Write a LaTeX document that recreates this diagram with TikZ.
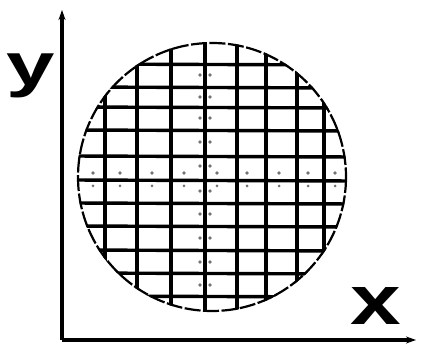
\documentclass[tikz,border=0pt]{standalone}
\usepackage{fontspec}
\setmainfont{Liberation Sans}
\usetikzlibrary{arrows.meta}
\begin{document}
\begin{tikzpicture}[x=1pt,y=-1pt,
  axisline/.style={line width=3.2pt,-{Stealth[length=10pt,width=7pt]}},
  gridline/.style={line width=3.4pt},
  rim/.style={line width=2.2pt,dash pattern=on 16pt off 2.5pt},
  tick/.style={fill=black!55,draw=none},
  axlabel/.style={inner sep=0pt,font=\bfseries}]
\useasboundingbox (0,0) rectangle (426,347);
\coordinate (O) at (62,340);
\coordinate (ytop) at (62,10);
\coordinate (xend) at (416,340);
\coordinate (C) at (212,177);
% grid clipped to circle
\begin{scope}
  \clip (C) circle (135);
  \foreach \yy in {64,87,107,130,156,180,203,226,250,273,296}
    \draw[gridline] (70,\yy) -- (355,\yy+1);
  \foreach \xx in {105,137,171,205,237,266,297,324}
    \draw[gridline] (\xx,35) -- (\xx,320);
\end{scope}
\draw[rim] (C) circle (134);
% faint marks along the central lines
\foreach \yy in {75,97,118,142,166,191,214,238,262,285}
  {\fill[tick] (200,\yy) circle (1.8); \fill[tick] (210,\yy) circle (1.8);}
\foreach \xx in {93,120,152,184,217,247,279,308,335}
  {\fill[tick] (\xx,173) circle (1.8); \fill[tick] (\xx,186) circle (1.5);}
% axes
\draw[axisline] (O) -- (ytop);
\draw[axisline] (O) -- (xend);
\node[axlabel,anchor=center,xscale=1.45] (ylab) at (31,76) {\fontsize{60}{60}\selectfont y};
\node[axlabel,anchor=center,xscale=1.3] (xlab) at (376,306) {\fontsize{70}{70}\selectfont x};
\end{tikzpicture}
\end{document}
